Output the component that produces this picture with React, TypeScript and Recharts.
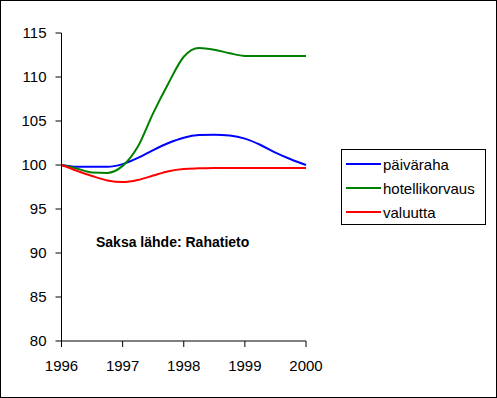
import { LineChart, Line, XAxis, YAxis } from "recharts";

const quarters = [
  1996, 1996.25, 1996.5, 1996.75, 1997, 1997.25, 1997.5, 1997.75, 1998,
  1998.25, 1998.5, 1998.75, 1999, 1999.25, 1999.5, 1999.75, 2000,
];
const paivaraha = [
  100, 99.8, 99.8, 99.8, 100.1, 100.8, 101.7, 102.5, 103.1, 103.4, 103.45,
  103.35, 103.0, 102.3, 101.4, 100.65, 100,
];
const hotellikorvaus = [
  100, 99.6, 99.15, 99.1, 99.9, 102.1, 105.9, 109.3, 112.3, 113.3, 113.1,
  112.7, 112.4, 112.4, 112.4, 112.4, 112.4,
];
const valuutta = [
  100, 99.35, 98.75, 98.25, 98.07, 98.3, 98.8, 99.3, 99.55, 99.62, 99.66,
  99.66, 99.66, 99.66, 99.66, 99.66, 99.66,
];
const yearTicks = [1996, 1997, 1998, 1999, 2000];
const valueTicks = [80, 85, 90, 95, 100, 105, 110, 115];

const series = [
  { key: "paivaraha", name: "päiväraha", color: "#0000ff" },
  { key: "hotellikorvaus", name: "hotellikorvaus", color: "#008000" },
  { key: "valuutta", name: "valuutta", color: "#ff0000" },
];

const data = quarters.map((q, i) => ({
  year: q,
  paivaraha: paivaraha[i],
  hotellikorvaus: hotellikorvaus[i],
  valuutta: valuutta[i],
}));

const font = '"Liberation Sans", Arial, sans-serif';

function LegendBox() {
  return (
    <div
      style={{
        position: "absolute",
        left: 341,
        top: 149,
        width: 145,
        height: 76,
        border: "1px solid #000",
        background: "#fff",
        fontFamily: font,
        fontSize: 15,
        color: "#000",
        boxSizing: "border-box",
        paddingTop: 2,
      }}
    >
      {series.map((s) => (
        <div
          key={s.key}
          style={{ display: "flex", alignItems: "center", height: 24 }}
        >
          <div
            style={{
              width: 35,
              height: 2,
              background: s.color,
              marginLeft: 4,
              marginRight: 2,
            }}
          />
          <span>{s.name}</span>
        </div>
      ))}
    </div>
  );
}

export default function App() {
  return (
    <div
      style={{
        position: "absolute",
        left: 0,
        top: 0,
        width: 497,
        height: 398,
        background: "#fff",
      }}
    >
      <LineChart
        width={497}
        height={398}
        data={data}
        margin={{ top: 33, right: 191, left: 0, bottom: 27 }}
      >
        <XAxis
          dataKey="year"
          type="number"
          domain={[1996, 2000]}
          ticks={yearTicks}
          tickSize={6}
          tickMargin={13}
          height={30}
          stroke="#000"
          tick={{ fill: "#000", fontSize: 15, fontFamily: font }}
        />
        <YAxis
          domain={[80, 115]}
          ticks={valueTicks}
          width={61.5}
          tickSize={6}
          tickMargin={9}
          stroke="#000"
          tick={{ fill: "#000", fontSize: 15, fontFamily: font }}
        />
        {series.map((s) => (
          <Line
            key={s.key}
            dataKey={s.key}
            name={s.name}
            type="monotone"
            stroke={s.color}
            strokeWidth={2}
            dot={false}
            isAnimationActive={false}
          />
        ))}
      </LineChart>
      <LegendBox />
      <div
        style={{
          position: "absolute",
          left: 96,
          top: 234,
          fontFamily: font,
          fontWeight: "bold",
          fontSize: 14,
          color: "#000",
          whiteSpace: "nowrap",
        }}
      >
        Saksa lähde: Rahatieto
      </div>
      <div
        style={{
          position: "absolute",
          left: 0,
          top: 0,
          width: 497,
          height: 398,
          border: "1px solid #000",
          boxSizing: "border-box",
          pointerEvents: "none",
        }}
      />
    </div>
  );
}
